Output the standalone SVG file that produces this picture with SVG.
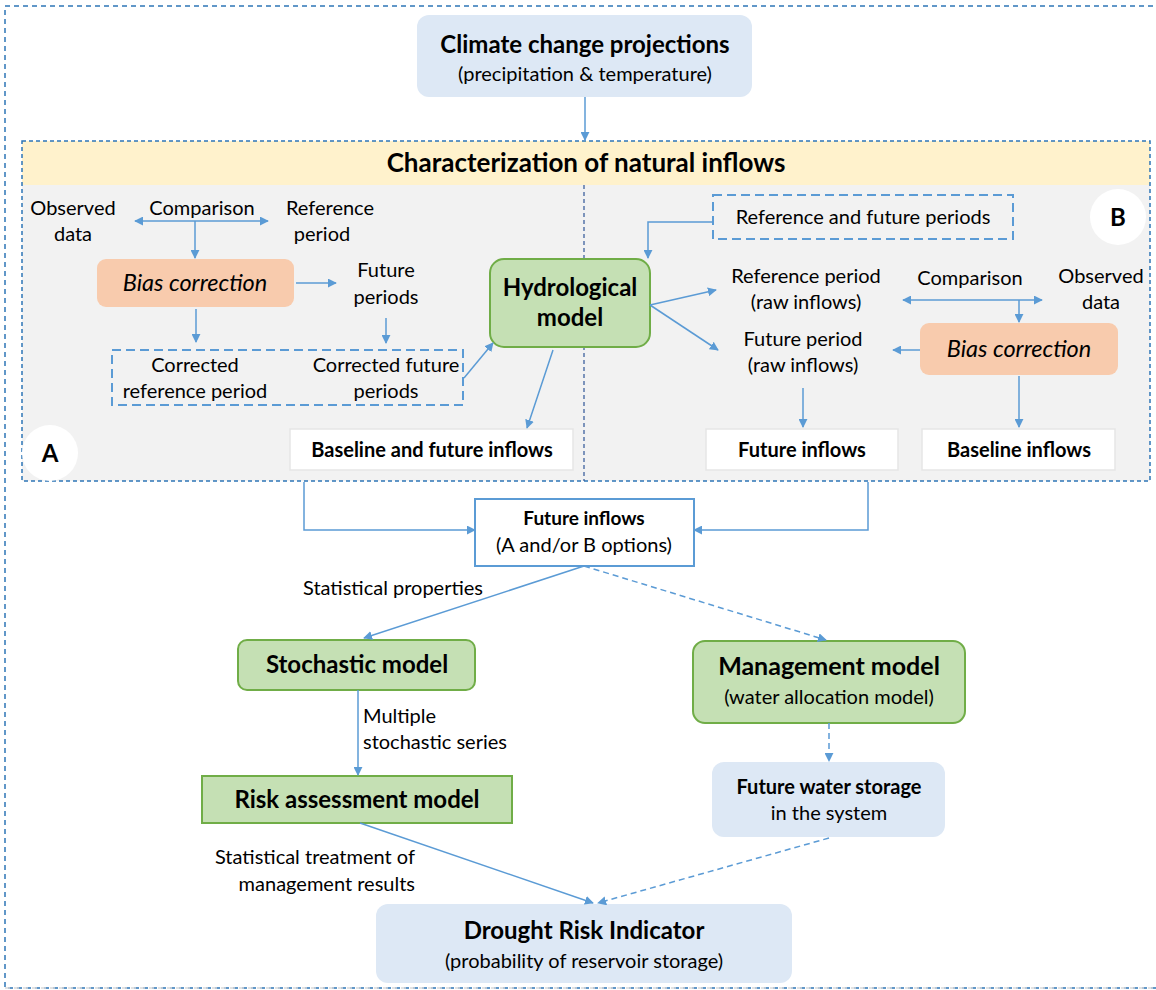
<svg xmlns="http://www.w3.org/2000/svg" width="1156" height="990" viewBox="0 0 1156 990">
<defs>
<marker id="ah" viewBox="0 0 10 10" refX="9" refY="5" markerWidth="9" markerHeight="9" markerUnits="userSpaceOnUse" orient="auto-start-reverse">
<path d="M0,0 L10,5 L0,10 z" fill="#5b9bd5"/>
</marker>
<style>
text{font-family:Lato,"Liberation Sans",sans-serif;fill:#000;}
.t{font-size:20px;text-anchor:middle;}
.tl{font-size:20px;}
.b{font-weight:bold;}
.big{font-size:24px;font-weight:bold;text-anchor:middle;}
.it{font-size:23.5px;font-style:italic;text-anchor:middle;}
.c{stroke:#5b9bd5;stroke-width:1.5;fill:none;marker-end:url(#ah);}
.d{stroke-dasharray:6,4;}
.green{fill:#c5e0b4;stroke:#70ad47;stroke-width:2;}
.blue{fill:#dde8f5;stroke:none;}
.bias{fill:#f8cbad;stroke:none;}
.wb{fill:#fff;stroke:#e6e6e6;stroke-width:1.5;}
.dbox{fill:none;stroke:#5b9bd5;stroke-width:2;stroke-dasharray:9,5;}
</style>
</defs>
<rect width="1156" height="990" fill="#fff"/>
<rect x="5" y="6" width="1160" height="982" fill="none" stroke="#2e75b6" stroke-width="1.5" stroke-dasharray="5,4"/>
<line x1="5" y1="988" x2="1156" y2="988" stroke="#d9d9d9" stroke-width="1.5" stroke-dasharray="5,4"/>

<g id="panel">
<rect x="22" y="141" width="1128" height="44" fill="#fff2cc"/>
<rect x="22" y="185" width="1128" height="296" fill="#f2f2f2"/>
<rect x="22" y="141" width="1128" height="340" fill="none" stroke="#2e75b6" stroke-width="1.5" stroke-dasharray="4,3"/>
<line x1="584" y1="185" x2="584" y2="481" stroke="#2f5597" stroke-width="1.2" stroke-dasharray="4,3"/>
<text class="big" x="586" y="172" style="font-size:26px">Characterization of natural inflows</text>
</g>

<g id="climate">
<rect x="417" y="15" width="335" height="82" rx="12" class="blue"/>
<text class="big" x="585" y="53">Climate change projections</text>
<text class="t" x="585" y="81">(precipitation &amp; temperature)</text>
</g>

<g id="A-labels">
<text class="t" x="73" y="215">Observed</text>
<text class="t" x="73" y="241">data</text>
<text class="t" x="202" y="215">Comparison</text>
<text class="t" x="330" y="215">Reference</text>
<text class="t" x="322" y="241">period</text>
<text class="t" x="386" y="277">Future</text>
<text class="t" x="386" y="304">periods</text>
</g>
<g id="biasA">
<rect x="97" y="259" width="197" height="48" rx="9" class="bias"/>
<text class="it" x="195" y="291">Bias correction</text>
</g>
<g id="correctedA">
<rect x="112" y="350" width="351" height="55" class="dbox"/>
<text class="t" x="195" y="372">Corrected</text>
<text class="t" x="195" y="398">reference period</text>
<text class="t" x="386" y="372">Corrected future</text>
<text class="t" x="386" y="398">periods</text>
</g>
<g id="hydro">
<rect x="490" y="259" width="160" height="88" rx="14" class="green"/>
<text class="big" x="570" y="296">Hydrological</text>
<text class="big" x="570" y="326">model</text>
</g>
<g id="baselineFutureA">
<rect x="290" y="429" width="283" height="41" class="wb"/>
<text class="t b" x="432" y="457">Baseline and future inflows</text>
</g>
<g id="circleA">
<circle cx="50" cy="453" r="28" fill="#fff"/>
<text class="big" x="50" y="462">A</text>
</g>

<g id="refFutB">
<rect x="713" y="195" width="300" height="44" class="dbox"/>
<text class="t" x="863" y="224">Reference and future periods</text>
</g>
<g id="circleB">
<circle cx="1118" cy="217" r="28" fill="#fff"/>
<text class="big" x="1118" y="226">B</text>
</g>
<g id="B-labels">
<text class="t" x="806" y="283">Reference period</text>
<text class="t" x="806" y="309">(raw inflows)</text>
<text class="t" x="970" y="285">Comparison</text>
<text class="t" x="1101" y="283">Observed</text>
<text class="t" x="1101" y="309">data</text>
<text class="t" x="803" y="346">Future period</text>
<text class="t" x="803" y="372">(raw inflows)</text>
</g>
<g id="biasB">
<rect x="920" y="323" width="198" height="52" rx="9" class="bias"/>
<text class="it" x="1019" y="357">Bias correction</text>
</g>
<g id="futureInflowsB">
<rect x="706" y="429" width="192" height="41" class="wb"/>
<text class="t b" x="802" y="457">Future inflows</text>
</g>
<g id="baselineInflowsB">
<rect x="922" y="429" width="193" height="41" class="wb"/>
<text class="t b" x="1019" y="457">Baseline inflows</text>
</g>

<g id="futureInflows">
<rect x="475" y="499" width="219" height="67" fill="#fff" stroke="#5b9bd5" stroke-width="2"/>
<text class="t b" x="584" y="525" style="font-size:19px">Future inflows</text>
<text class="t" x="584" y="552">(A and/or B options)</text>
</g>
<g id="stochastic">
<rect x="238" y="640" width="237" height="50" rx="9" class="green"/>
<text class="big" x="357" y="673">Stochastic model</text>
</g>
<g id="management">
<rect x="693" y="641" width="272" height="82" rx="12" class="green"/>
<text class="big" x="829" y="675" style="font-size:25px">Management model</text>
<text class="t" x="829" y="704">(water allocation model)</text>
</g>
<g id="risk">
<rect x="202" y="776" width="310" height="47" class="green"/>
<text class="big" x="357" y="808">Risk assessment model</text>
</g>
<g id="storage">
<rect x="712" y="762" width="233" height="75" rx="12" class="blue"/>
<text class="t b" x="829" y="794">Future water storage</text>
<text class="t" x="829" y="820">in the system</text>
</g>
<g id="drought">
<rect x="376" y="904" width="416" height="79" rx="12" class="blue"/>
<text class="big" x="584" y="939">Drought Risk Indicator</text>
<text class="t" x="584" y="968">(probability of reservoir storage)</text>
</g>
<g id="labels">
<text class="t" x="393" y="595">Statistical properties</text>
<text class="tl" x="363" y="723">Multiple</text>
<text class="tl" x="363" y="749">stochastic series</text>
<text class="tl" x="415" y="864" text-anchor="end">Statistical treatment of</text>
<text class="tl" x="415" y="891" text-anchor="end">management results</text>
</g>

<g id="connectors">
<line class="c" x1="585" y1="97" x2="585" y2="140"/>
<line class="c" x1="195" y1="221" x2="268" y2="221"/>
<line class="c" x1="195" y1="221" x2="135" y2="221"/>
<line class="c" x1="195" y1="221" x2="195" y2="258"/>
<line class="c" x1="296" y1="283" x2="336" y2="283"/>
<line class="c" x1="196" y1="309" x2="196" y2="342"/>
<line class="c" x1="386" y1="318" x2="386" y2="343"/>
<line class="c" x1="464" y1="378" x2="493" y2="343"/>
<line class="c" x1="553" y1="350" x2="527" y2="428"/>
<polyline class="c" points="713,222 648,222 648,258"/>
<line class="c" x1="650" y1="305" x2="716" y2="290"/>
<line class="c" x1="650" y1="305" x2="718" y2="350"/>
<line class="c" x1="1019" y1="300" x2="1042" y2="300"/>
<line class="c" x1="1019" y1="300" x2="903" y2="300"/>
<line class="c" x1="1019" y1="300" x2="1019" y2="322"/>
<line class="c" x1="920" y1="350" x2="893" y2="350"/>
<line class="c" x1="803" y1="388" x2="803" y2="427"/>
<line class="c" x1="1019" y1="376" x2="1019" y2="427"/>
<polyline class="c" points="304,482 304,530 475,530"/>
<polyline class="c" points="868,482 868,530 694,530"/>
<line class="c" x1="584" y1="566" x2="364" y2="638"/>
<line class="c d" x1="584" y1="566" x2="826" y2="640"/>
<line class="c" x1="358" y1="690" x2="358" y2="775"/>
<line class="c d" x1="829" y1="723" x2="829" y2="761"/>
<line class="c" x1="360" y1="823" x2="593" y2="903"/>
<line class="c d" x1="829" y1="838" x2="598" y2="903"/>
</g>
</svg>
